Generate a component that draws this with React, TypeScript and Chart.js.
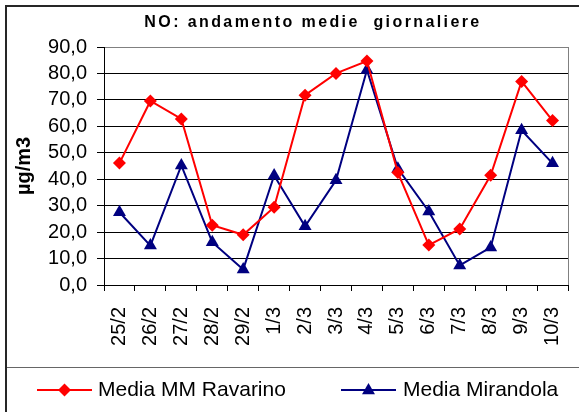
import React, { useEffect, useRef } from 'react';
import { Chart, registerables } from 'chart.js';

Chart.register(...registerables);

const categories = ['25/2', '26/2', '27/2', '28/2', '29/2', '1/3', '2/3', '3/3', '4/3', '5/3', '6/3', '7/3', '8/3', '9/3', '10/3'];
const ravarino = [46.1, 69.6, 62.8, 22.6, 19.0, 29.4, 71.8, 80.0, 84.7, 42.5, 15.1, 21.2, 41.5, 77.0, 62.2];
const mirandola = [27.5, 14.9, 45.2, 16.2, 5.9, 41.4, 22.2, 39.6, 81.3, 44.0, 27.8, 7.4, 14.2, 58.5, 46.0];
const seriesNames = ['Media MM Ravarino', 'Media Mirandola'];
const titleText = 'NO: andamento medie  giornaliere';
const yAxisTitle = 'µg/m3';
const yMin = 0;
const yMax = 90;
const yStep = 10;

const RED = '#FF0000';
const NAVY = '#000080';
const FONT = 'Arial, "Liberation Sans", sans-serif';

function fmt(v: number): string {
  return v.toFixed(1).replace('.', ',');
}

const decorPlugin = {
  id: 'decor',
  beforeDraw(chart: any) {
    const ctx = chart.ctx;
    ctx.save();
    ctx.fillStyle = '#FFFFFF';
    ctx.fillRect(0, 0, chart.width, chart.height);
    ctx.restore();
  },
  beforeDatasetsDraw(chart: any) {
    const { ctx, chartArea } = chart;
    ctx.save();
    ctx.strokeStyle = '#808080';
    ctx.lineWidth = 1;
    ctx.beginPath();
    const rx = Math.round(chartArea.right) + 0.5;
    ctx.moveTo(rx, chartArea.top);
    ctx.lineTo(rx, chartArea.bottom);
    ctx.stroke();
    ctx.restore();
  },
  afterDraw(chart: any) {
    const ctx = chart.ctx;
    ctx.save();
    // outer frame
    ctx.strokeStyle = '#262626';
    ctx.lineWidth = 2;
    ctx.beginPath();
    ctx.moveTo(6, 412);
    ctx.lineTo(6, 6);
    ctx.lineTo(579, 6);
    ctx.stroke();

    // title
    ctx.fillStyle = '#000000';
    ctx.font = 'bold 16px ' + FONT;
    (ctx as any).letterSpacing = '2.4px';
    ctx.textAlign = 'center';
    ctx.textBaseline = 'alphabetic';
    ctx.fillText(titleText, 313, 27);
    (ctx as any).letterSpacing = '0px';

    // legend box separator
    ctx.strokeStyle = '#666666';
    ctx.lineWidth = 1;
    ctx.beginPath();
    ctx.moveTo(7, 367.5);
    ctx.lineTo(579, 367.5);
    ctx.stroke();

    const ly = 390;
    // item 1
    ctx.strokeStyle = RED;
    ctx.lineWidth = 2;
    ctx.beginPath();
    ctx.moveTo(37, ly);
    ctx.lineTo(92, ly);
    ctx.stroke();
    ctx.fillStyle = RED;
    ctx.beginPath();
    const dx = 64.5, dr = 6.5;
    ctx.moveTo(dx, ly - dr);
    ctx.lineTo(dx + dr, ly);
    ctx.lineTo(dx, ly + dr);
    ctx.lineTo(dx - dr, ly);
    ctx.closePath();
    ctx.fill();

    // item 2
    ctx.strokeStyle = NAVY;
    ctx.beginPath();
    ctx.moveTo(341, ly);
    ctx.lineTo(396, ly);
    ctx.stroke();
    ctx.fillStyle = NAVY;
    const tx = 368.5, tr = 7.5;
    ctx.beginPath();
    ctx.moveTo(tx, ly - tr * 0.95);
    ctx.lineTo(tx + tr * 0.866, ly + tr * 0.55);
    ctx.lineTo(tx - tr * 0.866, ly + tr * 0.55);
    ctx.closePath();
    ctx.fill();

    ctx.fillStyle = '#000000';
    ctx.font = '21px ' + FONT;
    ctx.textAlign = 'left';
    ctx.textBaseline = 'alphabetic';
    ctx.fillText(seriesNames[0], 98, 396);
    ctx.fillText(seriesNames[1], 403, 396);
    ctx.restore();
  },
};

export default function App() {
  const canvasRef = useRef<HTMLCanvasElement | null>(null);

  useEffect(() => {
    document.body.style.margin = '0';
    const canvas = canvasRef.current;
    if (!canvas) return;
    const chart = new Chart(canvas, {
      type: 'line',
      data: {
        labels: categories,
        datasets: [
          {
            label: seriesNames[0],
            data: ravarino,
            borderColor: RED,
            backgroundColor: RED,
            borderWidth: 2,
            pointStyle: 'rectRot',
            pointRadius: 6.5,
            pointBorderWidth: 0,
            pointBackgroundColor: RED,
            tension: 0,
          },
          {
            label: seriesNames[1],
            data: mirandola,
            borderColor: NAVY,
            backgroundColor: NAVY,
            borderWidth: 2,
            pointStyle: 'triangle',
            pointRadius: 7.5,
            pointBorderWidth: 0,
            pointBackgroundColor: NAVY,
            tension: 0,
          },
        ],
      },
      options: {
        animation: false,
        responsive: false,
        devicePixelRatio: 1,
        layout: { padding: { top: 47, right: 11, bottom: 45, left: 0 } },
        plugins: {
          legend: { display: false },
          title: { display: false },
          tooltip: { enabled: false },
        },
        scales: {
          x: {
            type: 'category',
            offset: true,
            grid: {
              offset: true,
              drawOnChartArea: false,
              drawTicks: true,
              tickLength: 6,
              color: '#000000',
              tickColor: '#000000',
            },
            border: { color: '#000000', width: 1 },
            ticks: {
              autoSkip: false,
              minRotation: 90,
              maxRotation: 90,
              padding: 16,
              color: '#000000',
              font: { family: FONT, size: 20 },
            },
            afterFit: (s: any) => {
              s.height = 82;
              s.paddingLeft = 0;
              s.paddingRight = 0;
            },
          },
          y: {
            min: yMin,
            max: yMax,
            ticks: {
              autoSkip: false,
              stepSize: yStep,
              padding: 10,
              color: '#000000',
              font: { family: FONT, size: 20 },
              callback: (v: any) => fmt(Number(v)),
            },
            grid: {
              color: (c: any) => (c.tick && c.tick.value === yMax ? '#808080' : '#000000'),
              tickColor: '#000000',
              tickLength: 7,
              lineWidth: 1,
            },
            border: { color: '#000000', width: 1 },
            title: {
              display: true,
              text: yAxisTitle,
              color: '#000000',
              font: { family: FONT, size: 20, weight: 'bold' },
              padding: { top: 12, bottom: 0 },
            },
            afterFit: (s: any) => {
              s.width = 104;
              s.paddingTop = 0;
              s.paddingBottom = 0;
            },
          },
        },
      },
      plugins: [decorPlugin],
    } as any);
    return () => chart.destroy();
  }, []);

  return (
    <div style={{ position: 'absolute', left: 0, top: 0, width: 579, height: 412 }}>
      <canvas ref={canvasRef} width={579} height={412} style={{ display: 'block', width: 579, height: 412 }} />
    </div>
  );
}
